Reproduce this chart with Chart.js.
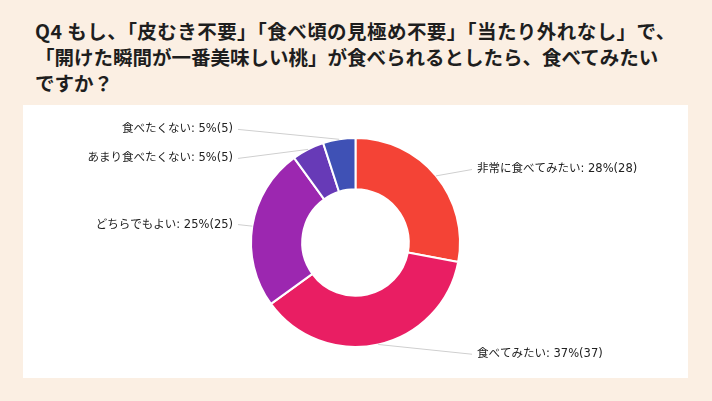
<!DOCTYPE html>
<html>
<head>
<meta charset="utf-8">
<script src="https://cdn.jsdelivr.net/npm/chart.js@4"></script>
<style>
  html, body { margin: 0; padding: 0; }
  body { width: 712px; height: 401px; background: #fbefe3; position: relative; overflow: hidden; }
  #title {
    position: absolute; left: 35px; top: 18px;
    font-family: "Noto Sans CJK JP", sans-serif; font-weight: bold;
    font-size: 19.5px; line-height: 26px; color: #1e1e1e;
    white-space: nowrap;
  }
  #title .l1 { letter-spacing: 0.45px; }
  #panel { position: absolute; left: 23px; top: 105px; width: 665px; height: 273px; background: #fff; }
</style>
</head>
<body>
<div id="title"><span class="l1">Q4 もし、「皮むき不要」「食べ頃の見極め不要」「当たり外れなし」で、</span><br>「開けた瞬間が一番美味しい桃」が食べられるとしたら、食べてみたい<br>ですか？</div>
<div id="panel"><canvas id="chart1" width="665" height="273"></canvas></div>
<script>
const categories = ['非常に食べてみたい', '食べてみたい', 'どちらでもよい', 'あまり食べたくない', '食べたくない'];
const counts = [28, 37, 25, 5, 5];
const colors = ['#f44336', '#e91e63', '#9c27b0', '#673ab7', '#3f51b5'];

const total = counts.reduce((a, b) => a + b, 0);

// outside labels with leader lines, placed from the arcs chart.js computed
const outsideLabels = {
    id: 'outsideLabels',
    afterDatasetsDraw(chart) {
        const ctx = chart.ctx;
        const meta = chart.getDatasetMeta(0);
        const items = meta.data.map((arc, i) => {
            const p = arc.getProps(['x', 'y', 'startAngle', 'endAngle', 'outerRadius'], true);
            const mid = (p.startAngle + p.endAngle) / 2;
            return {
                cx: p.x, cy: p.y, r: p.outerRadius,
                ax: p.x + Math.cos(mid) * p.outerRadius,
                ay: p.y + Math.sin(mid) * p.outerRadius,
                ly: p.y + Math.sin(mid) * (p.outerRadius + 10),
                right: Math.cos(mid) >= 0,
                text: categories[i] + ': ' + Math.round(counts[i] / total * 100) + '%(' + counts[i] + ')'
            };
        });
        // keep labels on each side apart
        [true, false].forEach(side => {
            const list = items.filter(it => it.right === side).sort((a, b) => a.ly - b.ly);
            for (let k = 1; k < list.length; k++) {
                if (list[k].ly < list[k - 1].ly + 29) list[k].ly = list[k - 1].ly + 29;
            }
        });
        ctx.save();
        ctx.font = '11.5px "DejaVu Sans", "Noto Sans CJK JP", sans-serif';
        ctx.textBaseline = 'middle';
        items.forEach(it => {
            const lx = it.right ? it.cx + it.r + 12 : it.cx - it.r - 13;
            ctx.strokeStyle = '#cfcfcf';
            ctx.lineWidth = 1;
            ctx.beginPath();
            ctx.moveTo(it.ax, it.ay);
            ctx.lineTo(lx, it.ly);
            ctx.stroke();
            ctx.fillStyle = '#222';
            ctx.textAlign = it.right ? 'left' : 'right';
            ctx.fillText(it.text, it.right ? lx + 5 : lx - 5, it.ly);
        });
        ctx.restore();
    }
};

const ctx1 = document.getElementById('chart1');
const myChart = new Chart(ctx1, {
    type: 'doughnut',
    data: {
        labels: categories,
        datasets: [{
            data: counts,
            backgroundColor: colors,
            borderColor: '#ffffff',
            borderWidth: 2
        }]
    },
    options: {
        responsive: false,
        animation: false,
        cutout: '51%',
        layout: {
            padding: { top: 32, bottom: 30 }
        },
        plugins: {
            legend: { display: false },
            tooltip: { enabled: false }
        }
    },
    plugins: [outsideLabels]
});
</script>
</body>
</html>
